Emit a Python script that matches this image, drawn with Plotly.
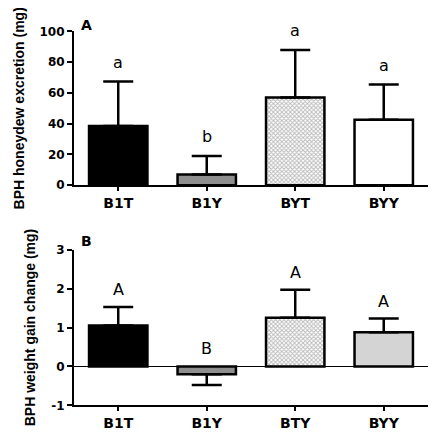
import plotly.graph_objects as go

cats_a = ["B1T", "B1Y", "BYT", "BYY"]
mean_a = [38.5, 7.0, 57.0, 42.5]
sem_a = [29.0, 12.0, 31.0, 23.0]
letters_a = ["a", "b", "a", "a"]
yticks_a = [0, 20, 40, 60, 80, 100]

cats_b = ["B1T", "B1Y", "BTY", "BYY"]
mean_b = [1.05, -0.20, 1.25, 0.88]
sem_b = [0.48, 0.28, 0.72, 0.35]
letters_b = ["A", "B", "A", "A"]
yticks_b = [-1, 0, 1, 2, 3]
yticklabels_b = ["-1", "0", "1", "2", "3"]

fills_a = ["#000000", "#8e8e8e", "#b8b8b8", "#ffffff"]
fills_b = ["#000000", "#8e8e8e", "#b8b8b8", "#d4d4d4"]
patterns = ["", "", "x", ""]

W, H = 429, 423
dom_x = [0.1538, 0.979]
dom_a = [0.5839, 0.9598]
dom_b = [0.0456, 0.4262]
rng_a = [0, 100]
rng_b = [-1, 3]

fig = go.Figure()


def add_panel(cats, means, sems, fills, xa, ya):
    up = [s if m >= 0 else 0 for m, s in zip(means, sems)]
    dn = [0 if m >= 0 else s for m, s in zip(means, sems)]
    fig.add_trace(go.Bar(
        x=cats, y=means, xaxis=xa, yaxis=ya, width=0.66,
        marker=dict(color=fills, line=dict(color="black", width=2.5),
                    pattern=dict(shape=patterns, size=3, solidity=0.5,
                                 fgcolor="#6a6a6a", bgcolor="#cacaca", fillmode="replace")),
        error_y=dict(type="data", symmetric=False, array=up, arrayminus=dn,
                     color="black", thickness=2.5, width=15),
        showlegend=False, hoverinfo="skip",
    ))


add_panel(cats_a, mean_a, sem_a, fills_a, "x", "y")
add_panel(cats_b, mean_b, sem_b, fills_b, "x2", "y2")


def to_paper(v, rng, dom):
    return dom[0] + (v - rng[0]) / (rng[1] - rng[0]) * (dom[1] - dom[0])


letter_font = dict(family="DejaVu Sans", size=16, color="black")
ann = []
for c, m, s, t in zip(cats_a, mean_a, sem_a, letters_a):
    ann.append(dict(x=c, y=to_paper(max(m, 0) + s + 12.5, rng_a, dom_a), xref="x", yref="paper",
                    text=t, showarrow=False, yanchor="middle", font=letter_font))
for c, m, s, t in zip(cats_b, mean_b, sem_b, letters_b):
    top = m + s if m >= 0 else 0
    ann.append(dict(x=c, y=to_paper(top + 0.45, rng_b, dom_b), xref="x2", yref="paper",
                    text=t, showarrow=False, yanchor="middle", font=letter_font))
ann.append(dict(x=0.184, y=0.976, xref="paper", yref="paper", text="<b>A</b>", showarrow=False,
                xanchor="center", yanchor="middle", font=dict(family="DejaVu Sans", size=14, color="black")))
ann.append(dict(x=0.184, y=0.4475, xref="paper", yref="paper", text="<b>B</b>", showarrow=False,
                xanchor="center", yanchor="middle", font=dict(family="DejaVu Sans", size=14, color="black")))

ytickfont = dict(family="DejaVu Sans", size=12, color="black", weight="bold")
xtickfont = dict(family="DejaVu Sans", size=14, color="black", weight="bold")
titlefont = dict(family="Liberation Sans", size=14, color="black", weight="bold")

common_x = dict(showline=True, linecolor="black", linewidth=2, ticks="outside", ticklen=4,
                tickwidth=2, tickcolor="black", tickfont=xtickfont, showgrid=False,
                range=[-0.5, 3.5], domain=dom_x)
common_y = dict(showline=True, linecolor="black", linewidth=2, ticks="outside", ticklen=5,
                tickwidth=2, tickcolor="black", tickfont=ytickfont, showgrid=False)

fig.update_layout(
    width=W, height=H, margin=dict(l=0, r=0, t=0, b=0),
    paper_bgcolor="white", plot_bgcolor="white",
    xaxis=dict(**common_x, anchor="y"),
    yaxis=dict(**common_y, range=rng_a, tickvals=yticks_a, domain=dom_a,
               zeroline=False, anchor="x",
               title=dict(text="BPH honeydew excretion (mg)", font=titlefont, standoff=12)),
    xaxis2=dict(**common_x, anchor="y2"),
    yaxis2=dict(**common_y, range=rng_b, tickvals=yticks_b, ticktext=yticklabels_b, domain=dom_b,
                zeroline=True, zerolinecolor="black", zerolinewidth=1, anchor="x2",
                title=dict(text="BPH weight gain change (mg)", font=titlefont, standoff=12)),
    annotations=ann,
)

fig.write_html("out.html")
